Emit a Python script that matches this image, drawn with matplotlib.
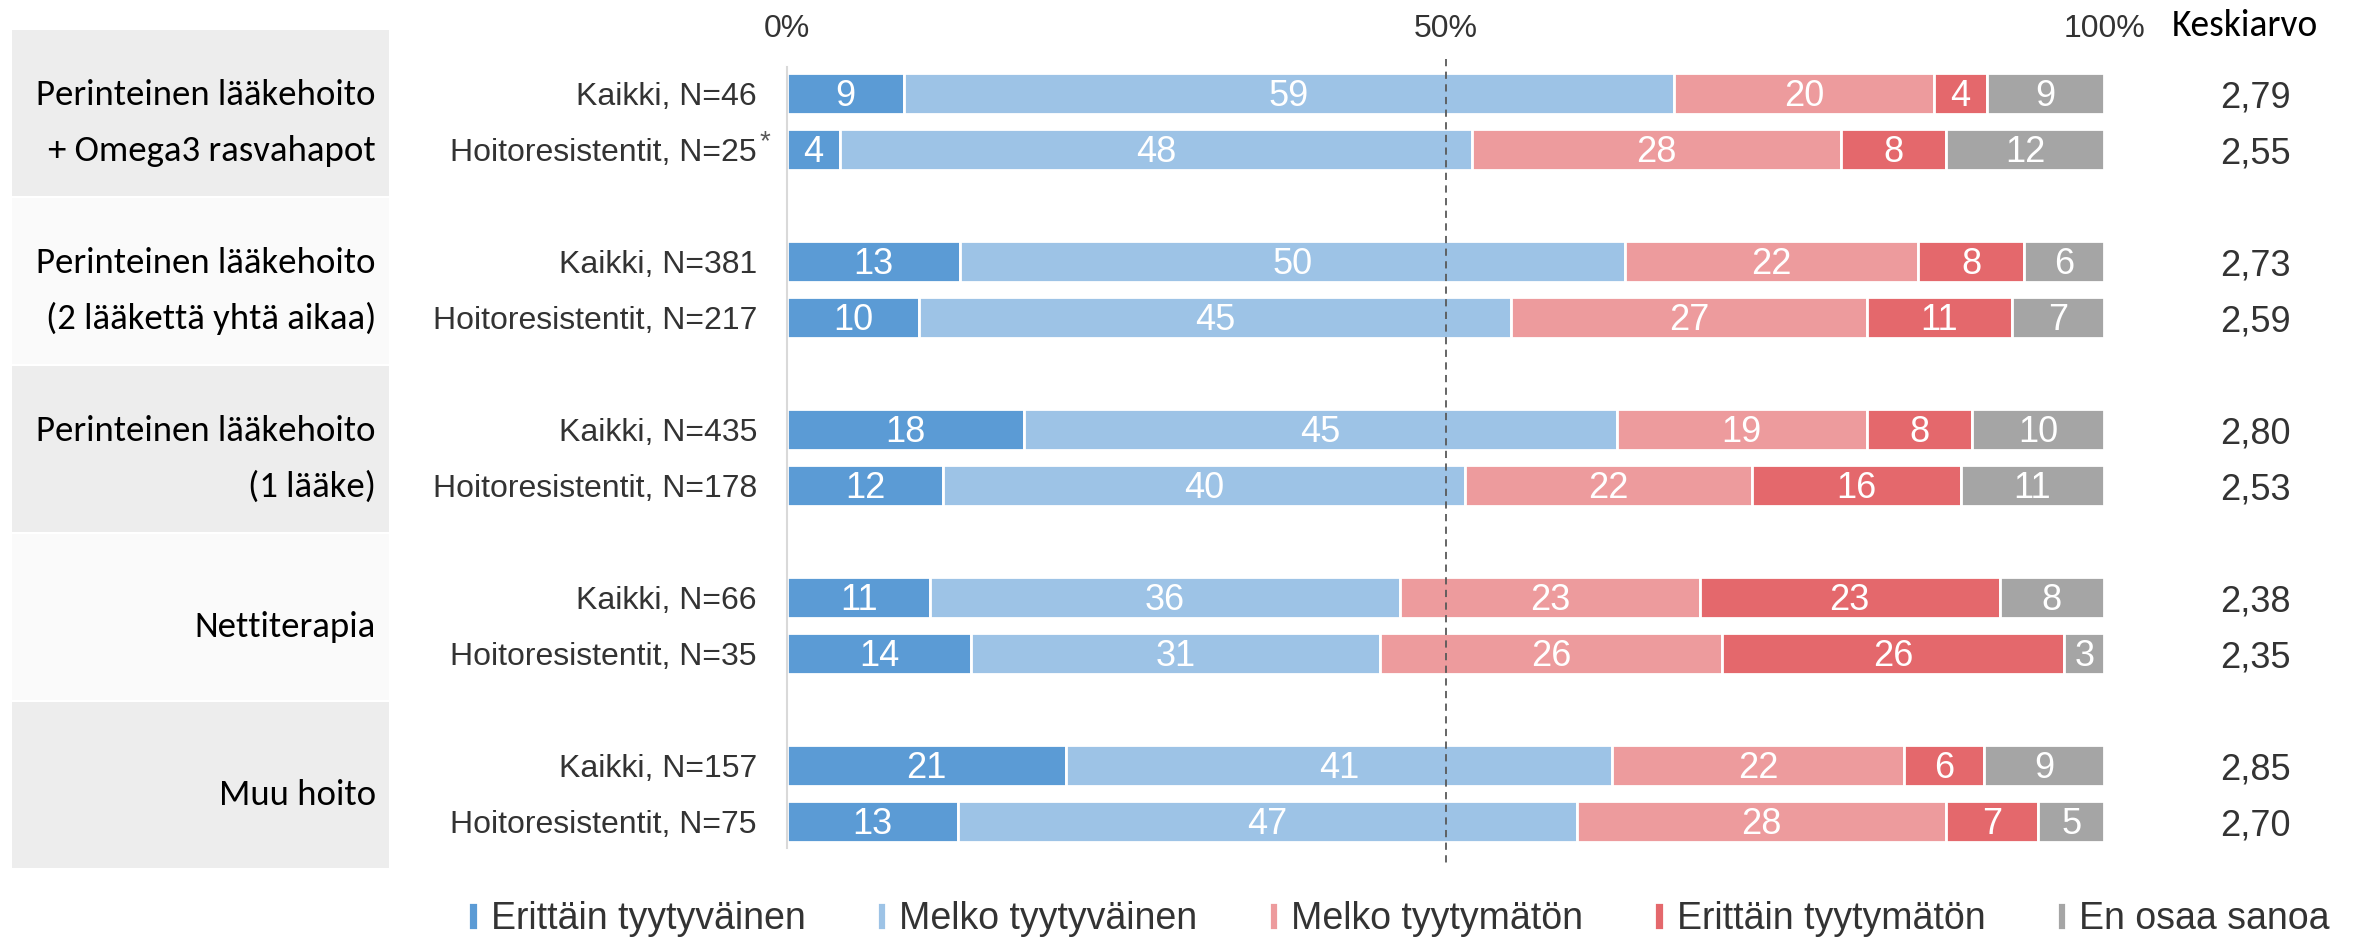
import numpy as np
from matplotlib import pyplot as plt
from matplotlib.patches import Rectangle

# data
groups = [["Perinteinen lääkehoito", "+ Omega3 rasvahapot"],
          ["Perinteinen lääkehoito", "(2 lääkettä yhtä aikaa)"],
          ["Perinteinen lääkehoito", "(1 lääke)"],
          ["Nettiterapia"],
          ["Muu hoito"]]
row_labels = ["Kaikki, N=46", "Hoitoresistentit, N=25",
              "Kaikki, N=381", "Hoitoresistentit, N=217",
              "Kaikki, N=435", "Hoitoresistentit, N=178",
              "Kaikki, N=66", "Hoitoresistentit, N=35",
              "Kaikki, N=157", "Hoitoresistentit, N=75"]
categories = ["Erittäin tyytyväinen", "Melko tyytyväinen", "Melko tyytymätön",
              "Erittäin tyytymätön", "En osaa sanoa"]
values = [[9, 59, 20, 4, 9],
          [4, 48, 28, 8, 12],
          [13, 50, 22, 8, 6],
          [10, 45, 27, 11, 7],
          [18, 45, 19, 8, 10],
          [12, 40, 22, 16, 11],
          [11, 36, 23, 23, 8],
          [14, 31, 26, 26, 3],
          [21, 41, 22, 6, 9],
          [13, 47, 28, 7, 5]]
means = ["2,79", "2,55", "2,73", "2,59", "2,80", "2,53", "2,38", "2,35", "2,85", "2,70"]
colors = ["#5B9BD5", "#9DC3E6", "#ED9B9D", "#E4686C", "#A5A5A5"]

arial = ["Liberation Sans", "DejaVu Sans"]
calib = ["Carlito", "DejaVu Sans"]
txt = "#333333"

W, H = 2361, 941
fig = plt.figure(figsize=(W / 100, H / 100), dpi=100)

# layout in pixels
row0 = 93
row_gap = 56
grp_pitch = 168
bar_h = 41

def row_y(i):
    return row0 + (i // 2) * grp_pitch + (i % 2) * row_gap

# background boxes + group labels
bg = fig.add_axes([0, 0, 1, 1])
bg.set_xlim(0, W)
bg.set_ylim(H, 0)
bg.axis("off")
for g, lines in enumerate(groups):
    top = row_y(2 * g) - 63
    col = "#EDEDED" if g % 2 == 0 else "#FAFAFA"
    bg.add_patch(Rectangle((12, top), 377, 166, color=col, lw=0))
    ys = [row_y(2 * g), row_y(2 * g + 1)]
    if len(lines) == 1:
        ys = [np.mean(ys)]
    for t, yy in zip(lines, ys):
        bg.text(376, yy + 12, t, ha="right", va="baseline", fontsize=26.5,
                family=calib, color="black")

# bars
x0, x1 = 787, 2104
ax = fig.add_axes([x0 / W, 0, (x1 - x0) / W, 1])
ax.set_xlim(0, 100)
ax.set_ylim(H, 0)
ax.axis("off")
px = 100 / (x1 - x0)   # data units per pixel

for i, vals in enumerate(values):
    v = np.array(vals, dtype=float)
    w = v / v.sum() * 100
    left = 0
    y = row_y(i)
    for k in range(len(v)):
        ax.barh(y, w[k], left=left, height=bar_h, color=colors[k],
                edgecolor="white", linewidth=2,
                label=categories[k] if i == 0 else None)
        ax.text(left + w[k] / 2, y + 13, str(vals[k]), ha="center", va="baseline",
                color="white", fontsize=26, family=arial)
        left += w[k]
    ax.text(-30 * px, y + 12, row_labels[i], ha="right", va="baseline", fontsize=23,
            family=arial, color=txt)
    ax.text((2255 - x0) * px, y + 14, means[i], ha="center", va="baseline", fontsize=26,
            family=arial, color=txt)

# asterisk after N=25
ax.text(-27 * px, row_y(1), "*", ha="left", va="baseline", fontsize=20,
        family=arial, color="#595959")

# axis line and 50% line
ax.plot([0, 0], [67, 848], color="#D9D9D9", lw=1.5, clip_on=False)
ax.plot([50, 50], [59, 866], color="#595959", lw=1.3, ls=(0, (4, 3)), clip_on=False)

for t in [0, 50, 100]:
    ax.text(t, 37, f"{t}%", ha="center", va="baseline", fontsize=23,
            family=arial, color=txt)
ax.text((2172 - x0) * px, 36, "Keskiarvo", ha="left", va="baseline", fontsize=27,
        family=calib, color="black")

leg = ax.legend(loc="center", bbox_to_anchor=((1399 - x0) / (x1 - x0), 1 - 919 / H),
                ncol=5, frameon=False, handlelength=0.25, handleheight=0.75,
                handletextpad=0.35, columnspacing=1.9,
                prop={"family": arial, "size": 27})
for t in leg.get_texts():
    t.set_color(txt)

plt.savefig("out.png", dpi=100)
